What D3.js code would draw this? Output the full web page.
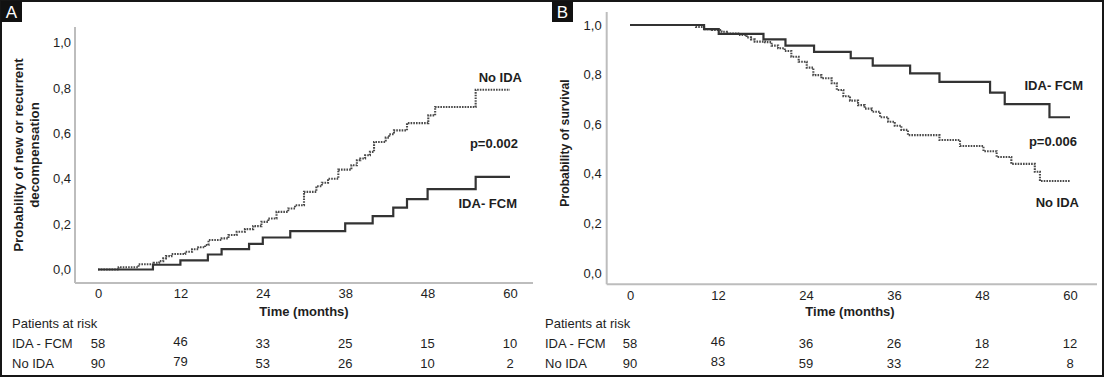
<!DOCTYPE html>
<html>
<head>
<meta charset="utf-8">
<script src="https://cdn.jsdelivr.net/npm/d3@7"></script>
<style>
  html, body { margin: 0; padding: 0; background: #fff; }
  svg { display: block; }
  text { font-family: "Liberation Sans", Arial, sans-serif; fill: #1e1e1e; }
</style>
</head>
<body>
<svg id="chart" width="1105" height="378"></svg>
<script>
// ---------------- DATA ----------------
// Panel A: probability of new or recurrent decompensation (step curves)
const monthsA_FCM = [0, 8, 12, 16, 18, 22, 24, 28, 36, 40, 43, 45, 48, 55, 60];
const probA_FCM   = [0, 0.021, 0.04, 0.066, 0.09, 0.113, 0.141, 0.169, 0.203, 0.235, 0.273, 0.31, 0.354, 0.408, 0.408];

const monthsA_NoIDA = [0, 3, 5.9, 8.1, 8.9, 9.5, 9.9, 10.7, 12.7, 13.7, 14.6, 15.6, 16.1, 18, 19, 20.2, 21.4, 22.6, 23.8, 24.8, 26, 27.7, 28.7, 30, 31.8, 32.6, 33.5, 35, 36.9, 37.7, 38.2, 38.9, 39.6, 40.2, 41.9, 42.4, 43.1, 45, 48.1, 49.1, 55, 60];
const probA_NoIDA   = [0, 0.01, 0.023, 0.03, 0.037, 0.049, 0.059, 0.068, 0.078, 0.089, 0.098, 0.108, 0.13, 0.137, 0.152, 0.166, 0.178, 0.191, 0.21, 0.225, 0.254, 0.269, 0.283, 0.342, 0.367, 0.382, 0.40, 0.44, 0.459, 0.481, 0.489, 0.503, 0.518, 0.562, 0.581, 0.596, 0.613, 0.645, 0.679, 0.716, 0.792, 0.792];

// Panel B: probability of survival (step curves)
const monthsB_FCM = [0, 10.1, 12.1, 18.2, 21.2, 25.1, 30.1, 33.1, 38.2, 42.2, 49.1, 51.1, 57.2, 60];
const survB_FCM   = [1, 0.983, 0.964, 0.942, 0.917, 0.892, 0.866, 0.836, 0.805, 0.771, 0.727, 0.681, 0.628, 0.628];

const monthsB_NoIDA = [0, 9.0, 10.1, 11.2, 12.5, 13.2, 15, 15.9, 16.5, 17.0, 18.4, 19.3, 20.2, 21.1, 22.0, 23.0, 24.1, 25.0, 26.1, 27.5, 28.2, 29.1, 30.0, 31.1, 32.0, 33.0, 34.1, 35.2, 36.1, 37.0, 37.9, 42.2, 45, 48.2, 50, 52, 55.2, 55.9, 60];
const survB_NoIDA   = [1, 0.992, 0.983, 0.98, 0.973, 0.966, 0.96, 0.95, 0.942, 0.933, 0.931, 0.917, 0.906, 0.895, 0.872, 0.852, 0.828, 0.798, 0.785, 0.765, 0.738, 0.713, 0.695, 0.677, 0.663, 0.65, 0.628, 0.61, 0.594, 0.577, 0.556, 0.536, 0.512, 0.491, 0.468, 0.44, 0.408, 0.371, 0.371];

// Axis ticks
const xTickValues = [0, 12, 24, 36, 48, 60];
const xTickLabelsA = ["0", "12", "24", "38", "48", "60"];
const xTickLabelsB = ["0", "12", "24", "36", "48", "60"];
const yTickValues = [0, 0.2, 0.4, 0.6, 0.8, 1.0];

// Patients at risk
const riskTimes = [0, 12, 24, 36, 48, 60];
const riskGroups = ["IDA - FCM", "No IDA"];
const riskA_FCM = [58, 46, 33, 25, 15, 10];
const riskA_NoIDA = [90, 79, 53, 26, 10, 2];
const riskB_FCM = [58, 46, 36, 26, 18, 12];
const riskB_NoIDA = [90, 83, 59, 33, 22, 8];

// ---------------- DRAW ----------------
const svg = d3.select("#chart");
const fmtY = d => d3.format(".1f")(d).replace(".", ",");

// outer frame
svg.append("rect").attr("x", 1).attr("y", 1).attr("width", 1102).attr("height", 375)
  .attr("fill", "none").attr("stroke", "#161616").attr("stroke-width", 2);

function panel(cfg) {
  const g = svg.append("g");
  const x = d3.scaleLinear().domain([0, 60]).range(cfg.xRange);
  const y = d3.scaleLinear().domain([0, 1]).range(cfg.yRange);

  // axis lines
  g.append("line").attr("x1", cfg.axisX).attr("x2", cfg.axisX).attr("y1", cfg.axisTop).attr("y2", cfg.axisY)
    .attr("stroke", "#bdbdbd").attr("stroke-width", 2);
  g.append("line").attr("x1", cfg.axisX).attr("x2", cfg.axisRight).attr("y1", cfg.axisY).attr("y2", cfg.axisY)
    .attr("stroke", "#bdbdbd").attr("stroke-width", 2);

  // x axis labels
  const xa = g.append("g").attr("transform", `translate(0,${cfg.axisY})`)
    .call(d3.axisBottom(x).tickValues(xTickValues).tickSize(0).tickPadding(cfg.xPad)
      .tickFormat((d, i) => cfg.xLabels[i]));
  xa.select(".domain").remove();
  xa.selectAll("text").attr("font-size", 13).attr("font-family", "Liberation Sans, Arial, sans-serif").attr("fill", "#1e1e1e");

  // y axis labels
  const ya = g.append("g").attr("transform", `translate(${cfg.axisX},0)`)
    .call(d3.axisLeft(y).tickValues(yTickValues).tickSize(0).tickPadding(cfg.yPad).tickFormat(fmtY));
  ya.select(".domain").remove();
  ya.selectAll("text").attr("font-size", 13).attr("font-family", "Liberation Sans, Arial, sans-serif").attr("fill", "#1e1e1e");

  // curves
  const line = d3.line().x(d => x(d[0])).y(d => y(d[1])).curve(d3.curveStepAfter);
  g.append("path").datum(d3.zip(cfg.dotT, cfg.dotV)).attr("d", line)
    .attr("fill", "none").attr("stroke", "#4a4a4a").attr("stroke-width", 2.1)
    .attr("stroke-dasharray", "1.6,1.1");
  g.append("path").datum(d3.zip(cfg.solT, cfg.solV)).attr("d", line)
    .attr("fill", "none").attr("stroke", "#333").attr("stroke-width", 2.2);

  // y title
  cfg.yTitle.forEach((t, i) => {
    g.append("text").attr("transform", `translate(${cfg.yTitleX[i]},${cfg.yTitleY}) rotate(-90)`)
      .attr("text-anchor", "middle").attr("dy", "0.35em")
      .attr("font-size", cfg.yTitleSize).attr("font-weight", "bold").text(t);
  });

  // x title
  g.append("text").attr("x", (cfg.xRange[0] + cfg.xRange[1]) / 2).attr("y", 311).attr("dy", "0.35em")
    .attr("text-anchor", "middle").attr("font-size", 13).attr("font-weight", "bold").text("Time (months)");

  // curve labels
  cfg.labels.forEach(l => {
    g.append("text").attr("x", l.x).attr("y", l.y).attr("dy", "0.35em").attr("text-anchor", "end")
      .attr("font-size", 13).attr("font-weight", "bold").text(l.t);
  });

  // patients at risk
  g.append("text").attr("x", cfg.tableX).attr("y", 323).attr("dy", "0.35em").attr("font-size", 13).text("Patients at risk");
  [cfg.riskFCM, cfg.riskNo].forEach((row, r) => {
    const yy = 343 + r * 20;
    g.append("text").attr("x", cfg.tableX).attr("y", yy).attr("dy", "0.35em").attr("font-size", 13).text(riskGroups[r]);
    g.selectAll(null).data(d3.zip(riskTimes, row)).join("text")
      .attr("x", d => x(d[0])).attr("y", d => yy + (d[0] === 12 ? -2 : 0)).attr("dy", "0.35em")
      .attr("text-anchor", "middle").attr("font-size", 13).text(d => d[1]);
  });

  // panel letter
  g.append("rect").attr("x", cfg.letterX).attr("y", 1).attr("width", 21).attr("height", 21).attr("fill", "#111");
  g.append("text").attr("x", cfg.letterX + 10.5).attr("y", 12).attr("dy", "0.36em").attr("text-anchor", "middle")
    .attr("font-size", 17).attr("fill", "#fff").style("fill", "#fff").text(cfg.letter);
}

panel({
  xRange: [98, 510], yRange: [269.5, 42.5],
  axisX: 75, axisTop: 27, axisY: 283, axisRight: 533,
  xPad: 5.8, yPad: 4, xLabels: xTickLabelsA,
  solT: monthsA_FCM, solV: probA_FCM, dotT: monthsA_NoIDA, dotV: probA_NoIDA,
  yTitle: ["Probability of new or recurrent", "decompensation"], yTitleX: [18, 34], yTitleY: 155, yTitleSize: 13.3,
  labels: [{t: "No IDA", x: 522, y: 77}, {t: "p=0.002", x: 518, y: 143}, {t: "IDA- FCM", x: 517, y: 203}],
  tableX: 12, riskFCM: riskA_FCM, riskNo: riskA_NoIDA,
  letter: "A", letterX: 1
});

panel({
  xRange: [630, 1070], yRange: [273, 25],
  axisX: 606.7, axisTop: 12, axisY: 284.3, axisRight: 1097,
  xPad: 6, yPad: 5, xLabels: xTickLabelsB,
  solT: monthsB_FCM, solV: survB_FCM, dotT: monthsB_NoIDA, dotV: survB_NoIDA,
  yTitle: ["Probability of survival"], yTitleX: [565], yTitleY: 143, yTitleSize: 12.2,
  labels: [{t: "IDA- FCM", x: 1083, y: 85}, {t: "p=0.006", x: 1077, y: 141}, {t: "No IDA", x: 1079, y: 202}],
  tableX: 545, riskFCM: riskB_FCM, riskNo: riskB_NoIDA,
  letter: "B", letterX: 552
});
</script>
</body>
</html>
